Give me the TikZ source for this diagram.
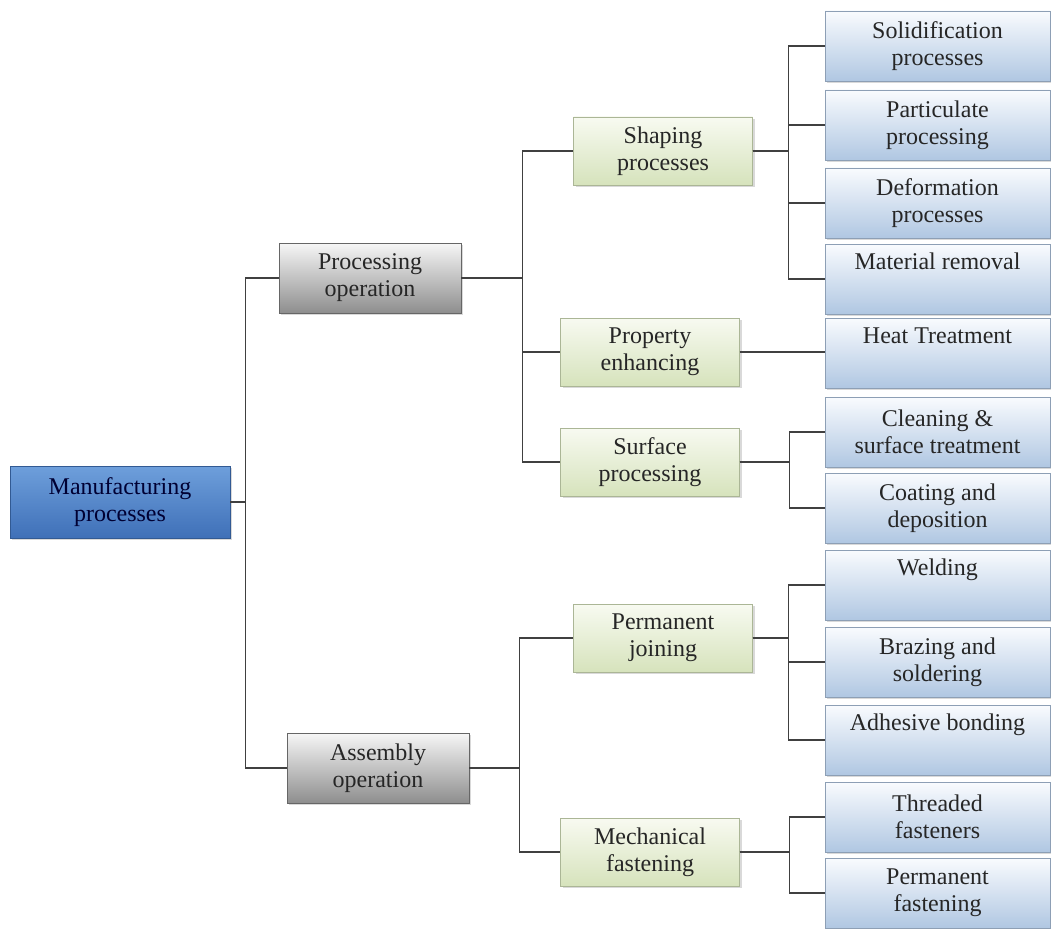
\documentclass[tikz,border=0pt]{standalone}
\usepackage{fontspec}
\setmainfont{Liberation Serif}
\usetikzlibrary{shadows}

\definecolor{rootTop}{HTML}{6E9FDB}
\definecolor{rootBot}{HTML}{3F70B8}
\definecolor{opTop}{HTML}{F6F6F6}
\definecolor{opBot}{HTML}{8E8E8E}
\definecolor{grpTop}{HTML}{F8FAF1}
\definecolor{grpBot}{HTML}{D6E3BC}
\definecolor{leafTop}{HTML}{F9FBFE}
\definecolor{leafBot}{HTML}{B0C7E2}

\begin{document}
\begin{tikzpicture}[x=1pt, y=-1pt,
  box/.style={draw, align=center, inner sep=2pt, text=black!85,
    font=\fontsize{24}{27}\selectfont,
    drop shadow={opacity=0.3, shadow xshift=2pt, shadow yshift=-2pt}},
  rootbox/.style={box, draw=rootBot!80!black, top color=rootTop, bottom color=rootBot,
    text=blue!20!black, minimum width=220pt, minimum height=72pt},
  opbox/.style={box, draw=black!60, top color=opTop, bottom color=opBot,
    minimum width=182pt, minimum height=70pt},
  grpbox/.style={box, draw=grpBot!80!black, top color=grpTop, bottom color=grpBot,
    minimum width=179pt, minimum height=68pt},
  leafbox/.style={box, draw=leafBot!80!black, top color=leafTop, bottom color=leafBot,
    minimum width=225pt, minimum height=70pt},
  link/.style={draw=black!75, line width=1.3pt}
]
  \useasboundingbox (0,0) rectangle (1051,928);

  % root and operations
  \node [rootbox] (mfg) at (120,502) {Manufacturing\\processes};
  \node [opbox] (proc) at (370,278) {Processing\\operation};
  \node [opbox] (asm) at (378,768) {Assembly\\operation};

  % process groups
  \node [grpbox] (shp) at (663,151) {Shaping\\processes};
  \node [grpbox] (prop) at (650,352) {Property\\enhancing};
  \node [grpbox] (surf) at (650,462) {Surface\\processing};
  \node [grpbox] (perm) at (663,638) {Permanent\\joining};
  \node [grpbox] (mech) at (650,852) {Mechanical\\fastening};

  % leaves
  \foreach \n/\y/\t in {sol/46/{Solidification\\processes},
      part/125/{Particulate\\processing},
      defo/203/{Deformation\\processes},
      rem/279/{Material removal\\\strut},
      heat/353/{Heat Treatment\\\strut},
      clean/432/{Cleaning \&\\surface treatment},
      coat/508/{Coating and\\deposition},
      weld/585/{Welding\\\strut},
      braz/662/{Brazing and\\soldering},
      adh/740/{Adhesive bonding\\\strut},
      thr/817/{Threaded\\fasteners},
      pfast/893/{Permanent\\fastening}} {
    \node [leafbox] (\n) at (937.5,\y) {\t};
  }

  % connectors
  \foreach \c in {proc,asm}
    \draw [link] (mfg.east) -- ++(15,0) |- (\c.west);
  \foreach \c in {shp,prop,surf}
    \draw [link] (proc.east) -- ++(61,0) |- (\c.west);
  \foreach \c in {perm,mech}
    \draw [link] (asm.east) -- ++(50,0) |- (\c.west);
  \foreach \c in {sol,part,defo,rem}
    \draw [link] (shp.east) -- ++(36,0) |- (\c.west);
  \draw [link] (prop.east) -- (prop.east -| heat.west);
  \foreach \c in {clean,coat}
    \draw [link] (surf.east) -- ++(50,0) |- (\c.west);
  \foreach \c in {weld,braz,adh}
    \draw [link] (perm.east) -- ++(36,0) |- (\c.west);
  \foreach \c in {thr,pfast}
    \draw [link] (mech.east) -- ++(50,0) |- (\c.west);
\end{tikzpicture}
\end{document}
